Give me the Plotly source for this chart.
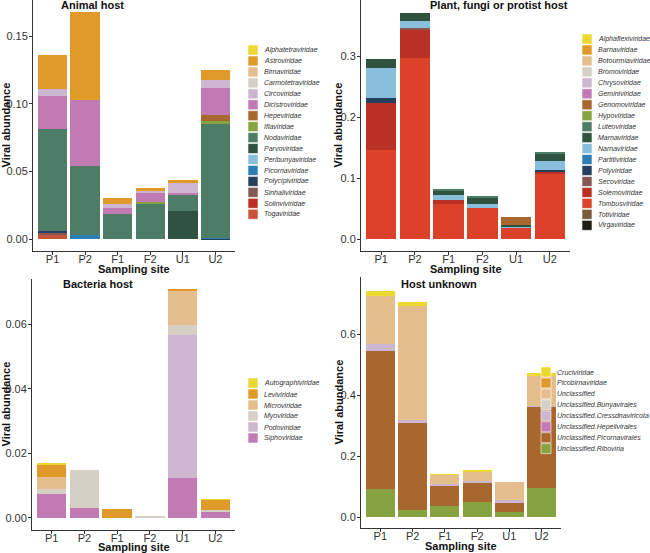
import plotly.graph_objects as go

W, H = 650, 553
FONT = "Liberation Sans, Arial, sans-serif"

sites = ["P1", "P2", "F1", "F2", "U1", "U2"]

palette = ["#EDD832", "#E09A2A", "#E5BE8E", "#D6CFC6", "#CDB6D0", "#C17AB3",
           "#A8672F", "#87A240", "#4D7D66", "#30533F", "#89BEDD", "#2C7DB1",
           "#263F5C", "#875853", "#BB3025", "#DC4229", "#7A5B3A", "#1F1F17"]

# ---------------- Animal host ----------------
animal_families = ["Alphatetraviridae", "Astroviridae", "Birnaviridae", "Carmotetraviridae",
                   "Circoviridae", "Dicistroviridae", "Hepeviridae", "Iflaviridae",
                   "Nodaviridae", "Parvoviridae", "Peribunyaviridae", "Picornaviridae",
                   "Polycipiviridae", "Sinhaliviridae", "Solinviviridae", "Togaviridae"]
animal_values = [
    [0, 0, 0, 0, 0, 0],
    [0.0253, 0.0648, 0.0049, 0.0020, 0.0024, 0.0073],
    [0, 0, 0, 0, 0, 0],
    [0, 0, 0, 0, 0, 0],
    [0.0047, 0, 0.0024, 0.0012, 0.0074, 0.0057],
    [0.0246, 0.0485, 0.0050, 0.0069, 0.0015, 0.0202],
    [0, 0, 0, 0, 0, 0.0044],
    [0, 0, 0, 0.0013, 0, 0.0022],
    [0.0753, 0.0514, 0.0185, 0.0263, 0.0113, 0.0842],
    [0, 0, 0, 0, 0.0212, 0],
    [0, 0, 0, 0, 0, 0],
    [0, 0.0030, 0, 0, 0, 0.0005],
    [0.0018, 0, 0, 0, 0, 0.0005],
    [0.0010, 0, 0, 0, 0, 0],
    [0, 0, 0, 0, 0, 0],
    [0.0034, 0, 0, 0, 0, 0],
]
animal_colors = palette[:15] + ["#C9543A"]

# ---------------- Plant, fungi or protist host ----------------
plant_families = ["Alphaflexiviridae", "Barnaviridae", "Botourmiaviridae", "Bromoviridae",
                  "Chrysoviridae", "Geminiviridae", "Genomoviridae", "Hypoviridae",
                  "Luteoviridae", "Marnaviridae", "Narnaviridae", "Partitiviridae",
                  "Polyviridae", "Secoviridae", "Solemoviridae", "Tombusviridae",
                  "Totiviridae", "Virgaviridae"]
plant_values = [
    [0, 0, 0, 0, 0, 0],
    [0, 0, 0, 0, 0, 0],
    [0, 0, 0, 0, 0, 0],
    [0, 0, 0, 0, 0, 0],
    [0, 0, 0, 0, 0, 0],
    [0, 0, 0, 0, 0, 0],
    [0, 0, 0, 0, 0.0129, 0],
    [0, 0, 0, 0, 0, 0],
    [0, 0, 0.0025, 0.0020, 0, 0.0015],
    [0.0150, 0.0130, 0.0080, 0.0100, 0.0035, 0.0120],
    [0.0500, 0.0114, 0.0075, 0.0060, 0.0015, 0.0155],
    [0, 0, 0, 0, 0, 0],
    [0.0075, 0, 0, 0, 0, 0.0025],
    [0, 0.0030, 0, 0, 0, 0],
    [0.0770, 0.0476, 0.0070, 0, 0, 0.0030],
    [0.1470, 0.2970, 0.0580, 0.0520, 0.0186, 0.1080],
    [0, 0, 0, 0, 0, 0],
    [0, 0, 0, 0, 0, 0],
]
plant_colors = palette[:18]

# ---------------- Bacteria host ----------------
bacteria_families = ["Autographiviridae", "Leviviridae", "Microviridae", "Myoviridae",
                     "Podoviridae", "Siphoviridae"]
bacteria_values = [
    [0.0005, 0, 0, 0, 0, 0.0002],
    [0.0041, 0, 0.0026, 0, 0.0003, 0.0031],
    [0.0035, 0, 0, 0, 0.0106, 0],
    [0.0016, 0.0117, 0, 0.0003, 0.0032, 0.0007],
    [0, 0, 0, 0, 0.0443, 0],
    [0.0074, 0.0031, 0, 0, 0.0122, 0.0017],
]
bacteria_colors = palette[:6]

# ---------------- Host unknown ----------------
unknown_families = ["Cruciviridae", "Picobirnaviridae", "Unclassified",
                    "Unclassified.Bunyavirales", "Unclassified.Cressdnaviricota",
                    "Unclassified.Hepelivirales", "Unclassified.Picornavirales",
                    "Unclassified.Riboviria"]
unknown_values = [
    [0.016, 0.012, 0.002, 0.003, 0, 0.009],
    [0, 0, 0, 0, 0, 0],
    [0.159, 0.374, 0.031, 0.031, 0.058, 0.098],
    [0, 0, 0, 0, 0, 0],
    [0.0216, 0.011, 0.005, 0.004, 0.012, 0.004],
    [0, 0, 0, 0, 0, 0],
    [0.4524, 0.284, 0.065, 0.067, 0.0285, 0.266],
    [0.094, 0.025, 0.039, 0.049, 0.0175, 0.096],
]
unknown_colors = palette[:8]

panels = [
    dict(title="Animal host", fams=animal_families, vals=animal_values, cols=animal_colors,
         x0=33, x1=235, yt=0, yb=251, yrange=[-0.0086, 0.1767], dtick=0.05, fmt=".2f",
         title_x=92, title_y=5, ytitle_x=6, xtitle_y=269,
         leg_sx=248, leg_tx=262, leg_y0=50, leg_dy=10.95),
    dict(title="Plant, fungi or protist host", fams=plant_families, vals=plant_values, cols=plant_colors,
         x0=361, x1=570, yt=0, yb=251, yrange=[-0.0192, 0.393], dtick=0.1, fmt=".1f",
         title_x=499, title_y=5, ytitle_x=338, xtitle_y=269,
         leg_sx=582, leg_tx=596, leg_y0=39, leg_dy=10.96),
    dict(title="Bacteria host", fams=bacteria_families, vals=bacteria_values, cols=bacteria_colors,
         x0=32, x1=235, yt=279, yb=530, yrange=[-0.0038, 0.0740], dtick=0.02, fmt=".2f",
         title_x=98, title_y=284, ytitle_x=5, xtitle_y=546.5,
         leg_sx=248, leg_tx=262, leg_y0=383, leg_dy=11.0),
    dict(title="Host unknown", fams=unknown_families, vals=unknown_values, cols=unknown_colors,
         x0=361, x1=561, yt=277, yb=528, yrange=[-0.0347, 0.788], dtick=0.2, fmt=".1f",
         title_x=439, title_y=284, ytitle_x=338, xtitle_y=546,
         leg_sx=541, leg_tx=555, leg_y0=372, leg_dy=10.95),
]

fig = go.Figure()
annotations = []
shapes = []
layout = {}

for i, p in enumerate(panels):
    n = "" if i == 0 else str(i + 1)
    xa, ya = "x" + n, "y" + n
    # stacked bars: first family ends on top, so add in reverse order
    for fam, vals, col in reversed(list(zip(p["fams"], p["vals"], p["cols"]))):
        fig.add_trace(go.Bar(x=sites, y=vals, name=fam, marker=dict(color=col, line=dict(width=0)),
                             width=0.9, xaxis=xa, yaxis=ya, showlegend=False))
    axis_common = dict(showline=True, linecolor="#333333", linewidth=1, ticks="outside",
                       ticklen=3, tickcolor="#333333", tickwidth=1, showgrid=False, zeroline=False,
                       tickfont=dict(family=FONT, size=11, color="#333333"))
    layout["xaxis" + n] = dict(domain=[p["x0"] / W, p["x1"] / W], anchor=ya,
                               range=[-0.6, 5.6], type="category", ticklabelstandoff=-5,
                               **axis_common)
    layout["yaxis" + n] = dict(domain=[1 - p["yb"] / H, 1 - p["yt"] / H], anchor=xa,
                               range=p["yrange"], dtick=p["dtick"], tick0=0, tickformat=p["fmt"],
                               ticklabelstandoff=-1, **axis_common)
    # panel title
    annotations.append(dict(text="<b>%s</b>" % p["title"], xref="paper", yref="paper",
                            x=p["title_x"] / W, y=1 - p["title_y"] / H, xanchor="center",
                            yanchor="middle", showarrow=False,
                            font=dict(family=FONT, size=11, color="#111111")))
    # axis titles
    annotations.append(dict(text="<b>Viral abundance</b>", xref="paper", yref="paper",
                            x=p["ytitle_x"] / W, y=1 - ((p["yt"] + p["yb"]) / 2) / H,
                            xanchor="center", yanchor="middle", textangle=-90, showarrow=False,
                            font=dict(family=FONT, size=11, color="#111111")))
    annotations.append(dict(text="<b>Sampling site</b>", xref="paper", yref="paper",
                            x=((p["x0"] + p["x1"]) / 2) / W, y=1 - p["xtitle_y"] / H,
                            xanchor="center", yanchor="middle", showarrow=False,
                            font=dict(family=FONT, size=11, color="#111111")))
    # legend drawn as keys + labels
    for k, (fam, col) in enumerate(zip(p["fams"], p["cols"])):
        cy = p["leg_y0"] + k * p["leg_dy"]
        shapes.append(dict(type="rect", xref="paper", yref="paper",
                           x0=p["leg_sx"] / W, x1=(p["leg_sx"] + 10) / W,
                           y0=1 - (cy + 5) / H, y1=1 - (cy - 5) / H,
                           fillcolor=col, line=dict(width=0.6, color="white")))
        annotations.append(dict(text="<i>%s</i>" % fam, xref="paper", yref="paper",
                                x=p["leg_tx"] / W, y=1 - cy / H, xanchor="left", yanchor="middle",
                                showarrow=False,
                                font=dict(family=FONT, size=7, color="#333333")))

fig.update_layout(width=W, height=H, margin=dict(l=0, r=0, t=0, b=0),
                  paper_bgcolor="white", plot_bgcolor="white", barmode="stack",
                  bargap=0.1, annotations=annotations, shapes=shapes, **layout)

fig.write_html("out.html", config={"displayModeBar": False},
               post_script="document.body.style.margin='0';document.body.style.overflow='hidden';")
